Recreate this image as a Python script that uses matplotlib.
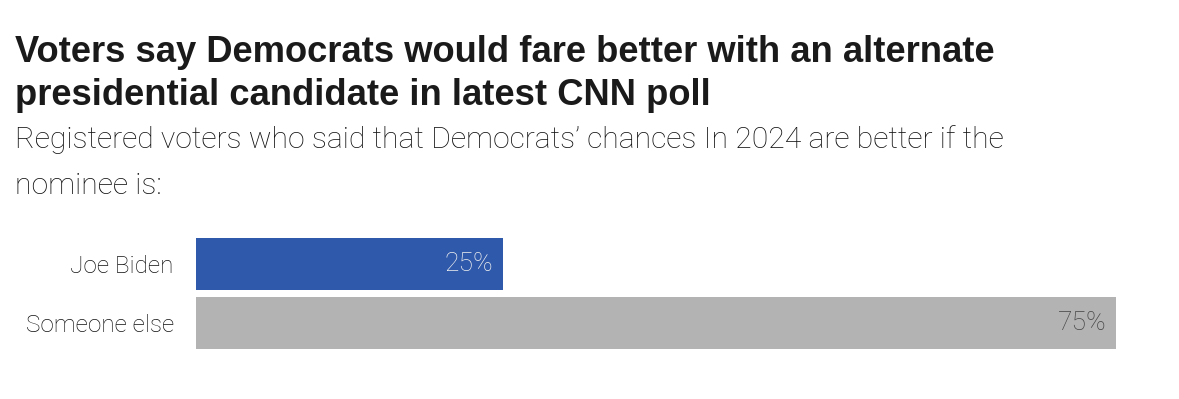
import matplotlib
matplotlib.use("Agg")
import matplotlib.pyplot as plt

# data
categories = ["Joe Biden", "Someone else"]
values = [25, 75]
bar_colors = ["#2f59aa", "#b3b3b3"]
label_colors = ["#f2f2f2", "#444444"]

title_lines = ["Voters say Democrats would fare better with an alternate",
               "presidential candidate in latest CNN poll"]
subtitle_lines = ["Registered voters who said that Democrats\u2019 chances In 2024 are better if the",
                  "nominee is:"]

W, H = 1179, 399
fig = plt.figure(figsize=(W / 100, H / 100), dpi=100)
fig.patch.set_facecolor("white")

def fy(px):
    return 1 - px / H

# titles
for line, y in zip(title_lines, [62, 105]):
    fig.text(15 / W, fy(y), line, fontsize=26.2, fontweight="bold",
             family="Liberation Sans", color="#1a1a1a", va="baseline")
for line, y in zip(subtitle_lines, [148, 194]):
    fig.text(15 / W, fy(y), line, fontsize=21.7, fontweight="light",
             family="Roboto", color="#111111", va="baseline")

# bars
ax = fig.add_axes([196 / W, 50 / H, 920 / W, 111 / H])
ax.barh(range(len(values)), values, height=0.88, color=bar_colors)
ax.set_xlim(0, 75)
ax.set_ylim(1.44, -0.44)
ax.set_yticks(range(len(categories)))
ax.set_yticklabels(categories, fontsize=17.5, family="Roboto",
                   fontweight="light", color="#111111")
ax.tick_params(axis="y", length=0, pad=16)
ax.set_xticks([])
for s in ax.spines.values():
    s.set_visible(False)

for i, v in enumerate(values):
    ax.text(v - 0.8, i, f"{v}%", ha="right", va="center", fontsize=19,
            family="Roboto", fontweight="light", color=label_colors[i])

fig.savefig("out.png", dpi=100)
